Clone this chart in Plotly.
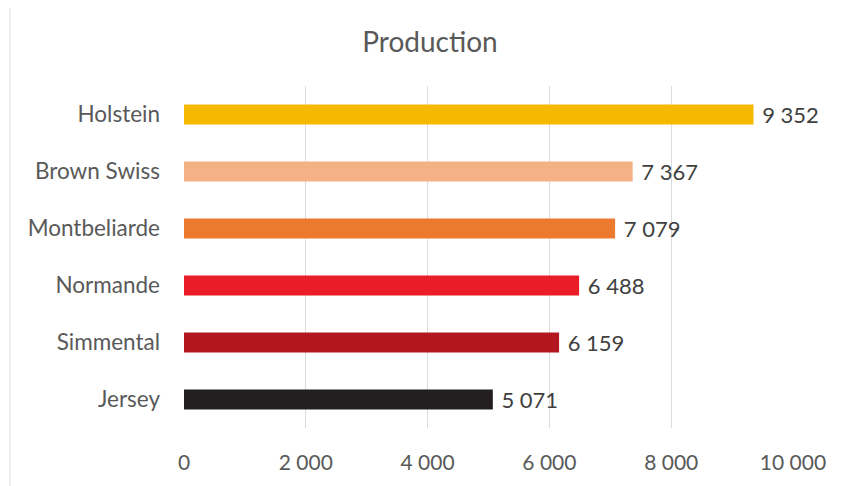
import plotly.graph_objects as go

breeds = ["Holstein", "Brown Swiss", "Montbeliarde", "Normande", "Simmental", "Jersey"]
production = [9352, 7367, 7079, 6488, 6159, 5071]
colors = ["#F5BA00", "#F3B185", "#EB7A2E", "#EA1C25", "#B3161E", "#231F20"]
x_ticks = [0, 2000, 4000, 6000, 8000, 10000]

font_family = "Lato, Carlito, Calibri, sans-serif"

W, H = 838, 478
L, R, T, B = 176, 53, 78, 56
plot_w = W - L - R
plot_h = H - T - B

fig = go.Figure(
    go.Bar(
        x=production,
        y=breeds,
        orientation="h",
        marker=dict(color=colors, line=dict(width=0)),
        texttemplate="\u00a0%{x:,d}",
        textposition="outside",
        textfont=dict(size=22, color="#404040", family=font_family),
        cliponaxis=False,
        constraintext="none",
        hoverinfo="skip",
    )
)

fig.update_layout(
    width=W,
    height=H,
    margin=dict(l=L, r=R, t=T, b=B),
    paper_bgcolor="white",
    plot_bgcolor="white",
    separators=", ",
    bargap=0.65,
    showlegend=False,
    title=dict(
        text="Production",
        x=422 / W,
        xanchor="center",
        y=1 - 34 / H,
        yanchor="middle",
        font=dict(size=28, color="#595959", family=font_family),
    ),
    font=dict(family=font_family, color="#595959"),
    xaxis=dict(
        range=[0, 10000],
        tickvals=x_ticks,
        tickformat=",d",
        showgrid=True,
        gridcolor="#DCDCDC",
        gridwidth=1,
        zeroline=False,
        showline=False,
        ticks="",
        ticklabelstandoff=20,
        tickfont=dict(size=21, color="#595959"),
        fixedrange=True,
    ),
    yaxis=dict(
        autorange="reversed",
        showgrid=False,
        zeroline=False,
        showline=False,
        ticks="",
        ticklabelstandoff=23,
        tickfont=dict(size=22.5, color="#595959"),
        fixedrange=True,
    ),
    shapes=[
        dict(
            type="line", xref="paper", yref="paper",
            x0=(2 - L) / plot_w, x1=(2 - L) / plot_w,
            y0=-(B + 5) / plot_h, y1=1 + (T + 5) / plot_h,
            line=dict(color="#E2E2E2", width=1),
        )
    ],
)

fig.write_html("out.html")
